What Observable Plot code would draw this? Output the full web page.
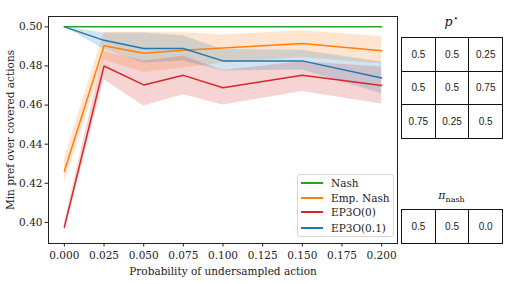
<!DOCTYPE html>
<html>
<head>
<meta charset="utf-8">
<script src="https://cdn.jsdelivr.net/npm/d3@7"></script>
<script src="https://cdn.jsdelivr.net/npm/@observablehq/plot@0.6"></script>
<style>
  html, body { margin: 0; padding: 0; background: #fff; }
  #wrap { position: relative; width: 505px; height: 284px; overflow: hidden; font-family: "DejaVu Serif", serif; }
  #chart { position: absolute; left: 0; top: 0; }
  .legend { position: absolute; left: 297px; top: 174px; width: 97px; height: 63px; border: 1px solid #d5d5d5; border-radius: 3px; background: rgba(255,255,255,0.85); font-size: 10.5px; color: #222; box-sizing: border-box; }
  .legend .row { position: absolute; left: 0; height: 14px; display: flex; align-items: center; }
  .legend .sw { width: 22px; height: 1.6px; margin-left: 3px; margin-right: 8px; }
  .tbl { position: absolute; border-collapse: collapse; font-family: "Liberation Sans", Arial, sans-serif; font-size: 10px; color: #222; }
  .tbl td { border: 1px solid #111; width: 33.7px; height: 33.5px; padding: 0; text-align: center; vertical-align: middle; box-sizing: border-box; }
  .ttl { position: absolute; font-family: "DejaVu Serif", serif; color: #111; text-align: center; width: 101px; }
</style>
</head>
<body>
<div id="wrap">
  <div id="chart"></div>
</div>
<script>
// ---- data ----
const xs = [0, 0.025, 0.05, 0.075, 0.1, 0.15, 0.2];
const seriesNames = ["Nash", "Emp. Nash", "EP3O(0)", "EP3O(0.1)"];
const seriesColors = ["#2ca02c", "#ff7f0e", "#d62728", "#1f77b4"];

const nash   = [0.5, 0.5, 0.5, 0.5, 0.5, 0.5, 0.5];
const nashLo = [0.5, 0.5, 0.5, 0.5, 0.5, 0.5, 0.5];
const nashHi = [0.5, 0.5, 0.5, 0.5, 0.5, 0.5, 0.5];

const empNash   = [0.4262, 0.4903, 0.4865, 0.4880, 0.4892, 0.4915, 0.4878];
const empNashLo = [0.4202, 0.4830, 0.4766, 0.4790, 0.4815, 0.4843, 0.4810];
const empNashHi = [0.4325, 0.4971, 0.4971, 0.4970, 0.4959, 0.4980, 0.4951];

const ep3o0   = [0.3976, 0.4800, 0.4703, 0.4752, 0.4689, 0.4752, 0.4700];
const ep3o0Lo = [0.3946, 0.4730, 0.4595, 0.4653, 0.4600, 0.4670, 0.4605];
const ep3o0Hi = [0.3997, 0.4875, 0.4826, 0.4850, 0.4778, 0.4822, 0.4795];

const ep3o01   = [0.5, 0.4931, 0.4889, 0.4889, 0.4826, 0.4826, 0.4738];
const ep3o01Lo = [0.5, 0.4885, 0.4815, 0.4826, 0.4774, 0.4780, 0.4658];
const ep3o01Hi = [0.5, 0.4968, 0.4968, 0.4955, 0.4884, 0.4880, 0.4820];

const xTicks = [0, 0.025, 0.05, 0.075, 0.1, 0.125, 0.15, 0.175, 0.2];
const yTicks = [0.40, 0.42, 0.44, 0.46, 0.48, 0.50];

const pStar = [["0.5", "0.5", "0.25"], ["0.5", "0.5", "0.75"], ["0.75", "0.25", "0.5"]];
const piNash = [["0.5", "0.5", "0.0"]];

// ---- build table ----
const all = [[nash, nashLo, nashHi], [empNash, empNashLo, empNashHi], [ep3o0, ep3o0Lo, ep3o0Hi], [ep3o01, ep3o01Lo, ep3o01Hi]];
const rows = [];
all.forEach(([m, lo, hi], si) => {
  xs.forEach((x, i) => rows.push({series: seriesNames[si], x, y: m[i], lo: lo[i], hi: hi[i]}));
});

const color = {domain: seriesNames, range: seriesColors};

const plot = Plot.plot({
  width: 505,
  height: 284,
  marginLeft: 48,
  marginRight: 108,
  marginTop: 16,
  marginBottom: 41,
  x: {domain: [-0.01, 0.21]},
  y: {domain: [0.3892, 0.5053]},
  color,
  style: {fontFamily: "DejaVu Serif", fontSize: "10.5px", color: "#222", background: "transparent"},
  marks: [
    Plot.areaY(rows.filter(d => d.series !== "Nash"), {x: "x", y1: "lo", y2: "hi", fill: "series", fillOpacity: 0.2, z: "series", curve: "linear"}),
    Plot.lineY(rows, {x: "x", y: "y", stroke: "series", z: "series", strokeWidth: 1.5}),
    Plot.axisX({ticks: xTicks, tickFormat: d3.format(".3f"), tickSize: 3.5, tickPadding: 4.5, label: "Probability of undersampled action", labelAnchor: "center", labelArrow: "none", labelOffset: 31}),
    Plot.axisY({ticks: yTicks, tickFormat: d3.format(".2f"), tickSize: 3.5, tickPadding: 2.5, label: "Min pref over covered actions", labelAnchor: "center", labelArrow: "none", labelOffset: 42}),
    Plot.frame({stroke: "#222", strokeWidth: 1})
  ]
});
document.getElementById("chart").appendChild(plot);

// ---- legend ----
const wrap = document.getElementById("wrap");
const leg = document.createElement("div");
leg.className = "legend";
const legY = [183, 198, 212, 228];
seriesNames.forEach((name, i) => {
  const r = document.createElement("div");
  r.className = "row";
  r.style.top = (legY[i] - 174 - 7 - 1) + "px";
  const sw = document.createElement("span");
  sw.className = "sw";
  sw.style.background = seriesColors[i];
  const t = document.createElement("span");
  t.textContent = name;
  r.appendChild(sw); r.appendChild(t);
  leg.appendChild(r);
});
wrap.appendChild(leg);

// ---- tables ----
function makeTable(data, left, top) {
  const t = document.createElement("table");
  t.className = "tbl";
  t.style.left = left + "px";
  t.style.top = top + "px";
  data.forEach(row => {
    const tr = document.createElement("tr");
    row.forEach(v => { const td = document.createElement("td"); td.textContent = v; tr.appendChild(td); });
    t.appendChild(tr);
  });
  wrap.appendChild(t);
}
makeTable(pStar, 401, 37);
makeTable(piNash, 401, 209);

const t1 = document.createElement("div");
t1.className = "ttl";
t1.style.left = "401px"; t1.style.top = "13px"; t1.style.fontSize = "12.5px";
t1.innerHTML = '<i>p</i><sup style="font-size:8.5px">⋆</sup>';
wrap.appendChild(t1);
const t2 = document.createElement("div");
t2.className = "ttl";
t2.style.left = "401px"; t2.style.top = "189px"; t2.style.fontSize = "11px";
t2.innerHTML = '<i>π</i><sub style="font-size:8px">nash</sub>';
wrap.appendChild(t2);
</script>
</body>
</html>
